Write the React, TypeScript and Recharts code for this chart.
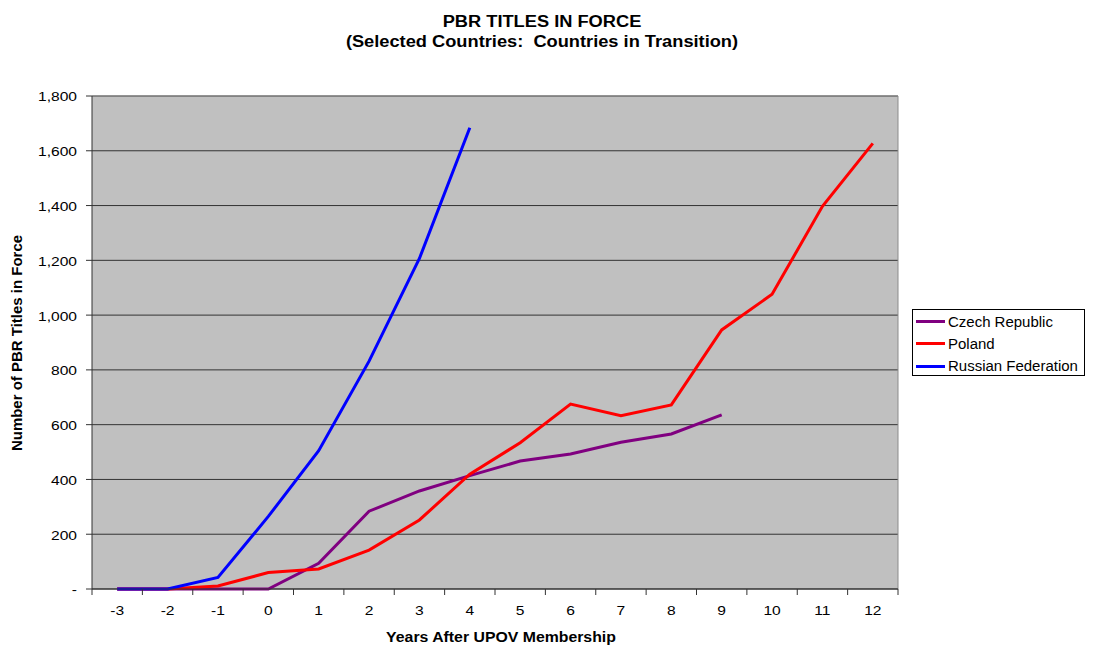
import React from "react";
import { LineChart, Line, XAxis, YAxis, CartesianGrid, ReferenceLine } from "recharts";

// years relative to UPOV membership
const years = [-3, -2, -1, 0, 1, 2, 3, 4, 5, 6, 7, 8, 9, 10, 11, 12];

const czech = [0, 0, 0, 0, 94, 284, 358, 414, 467, 493, 536, 566, 636, null, null, null];
const poland = [0, 0, 11, 60, 73, 142, 252, 419, 534, 675, 633, 672, 946, 1076, 1397, 1627];
const russia = [0, 0, 42, 265, 505, 832, 1207, 1684, null, null, null, null, null, null, null, null];

const yTicks = [0, 200, 400, 600, 800, 1000, 1200, 1400, 1600, 1800];

const series = [
  { key: "czech", name: "Czech Republic", color: "#800080" },
  { key: "poland", name: "Poland", color: "#FF0000" },
  { key: "russia", name: "Russian Federation", color: "#0000FF" },
];

const data = years.map((year, i) => ({
  year,
  czech: czech[i],
  poland: poland[i],
  russia: russia[i],
}));

const W = 1087;
const H = 639;
const PLOT_LEFT = 84;
const PLOT_RIGHT = 890;
const PLOT_TOP = 88;
const PLOT_BOTTOM = 581;
const BAND = (PLOT_RIGHT - PLOT_LEFT) / years.length;
const FONT = "'Liberation Sans', Arial, sans-serif";
const AXIS_COLOR = "#333";

const fmt = (v: number) => (v === 0 ? "-" : v.toLocaleString("en-US"));

const XTick = (props: any) => {
  const { x, payload } = props;
  const half = BAND / 2;
  const last = payload.value === years[years.length - 1];
  return (
    <g>
      <line x1={x - half} y1={PLOT_BOTTOM} x2={x - half} y2={PLOT_BOTTOM + 6} stroke={AXIS_COLOR} />
      {last && <line x1={x + half} y1={PLOT_BOTTOM} x2={x + half} y2={PLOT_BOTTOM + 6} stroke={AXIS_COLOR} />}
      <text
        transform={`translate(${x},${PLOT_BOTTOM + 22}) scale(1.3,1)`}
        textAnchor="middle"
        dy="0.35em"
        fontSize={12}
        fontFamily={FONT}
        fill="#000"
      >
        {payload.value}
      </text>
    </g>
  );
};

const YTick = (props: any) => {
  const { x, y, payload } = props;
  return (
    <text
      transform={`translate(${x},${y}) scale(1.3,1)`}
      textAnchor="end"
      dy="0.45em"
      fontSize={12}
      fontFamily={FONT}
      fill="#000"
    >
      {fmt(payload.value)}
    </text>
  );
};

export default function App() {
  return (
    <div style={{ position: "relative", width: W, height: H, fontFamily: FONT, background: "#fff" }}>
      <div
        style={{
          position: "absolute",
          left: 0,
          top: 4,
          width: 1068,
          textAlign: "center",
          fontWeight: "bold",
          fontSize: 16,
          lineHeight: "19.5px",
        }}
      >
        <div style={{ transform: "scaleX(1.14)" }}>PBR TITLES IN FORCE</div>
        <div style={{ transform: "scaleX(1.14)", whiteSpace: "pre" }}>
          (Selected Countries:  Countries in Transition)
        </div>
      </div>

      <LineChart
        width={W}
        height={H}
        data={data}
        margin={{ top: PLOT_TOP, right: W - PLOT_RIGHT, bottom: 28, left: 0 }}
      >
        <CartesianGrid fill="#C0C0C0" stroke={AXIS_COLOR} vertical={false} />
        <XAxis
          dataKey="year"
          type="number"
          domain={[-3.5, 12.5]}
          ticks={years}
          interval={0}
          height={30}
          tick={<XTick />}
          tickLine={false}
          tickSize={6}
          tickMargin={2}
          axisLine={{ stroke: AXIS_COLOR }}
        />
        <YAxis
          type="number"
          domain={[0, 1800]}
          ticks={yTicks}
          interval={0}
          width={PLOT_LEFT}
          tick={<YTick />}
          tickSize={6}
          tickMargin={9}
          tickLine={{ stroke: AXIS_COLOR }}
          axisLine={{ stroke: AXIS_COLOR }}
        />
        <ReferenceLine y={1800} stroke="#8c8c8c" />
        <ReferenceLine x={12.5} stroke="#8c8c8c" />
        {series.map((s) => (
          <Line
            key={s.key}
            dataKey={s.key}
            name={s.name}
            type="linear"
            stroke={s.color}
            strokeWidth={3}
            dot={false}
            activeDot={false}
            isAnimationActive={false}
          />
        ))}
      </LineChart>

      <div
        style={{
          position: "absolute",
          left: 9,
          top: 335,
          transform: "translate(-50%, -50%) rotate(-90deg) scaleX(1.07)",
          whiteSpace: "nowrap",
          fontWeight: "bold",
          fontSize: 14,
        }}
      >
        Number of PBR Titles in Force
      </div>

      <div
        style={{
          position: "absolute",
          left: 493,
          top: 629,
          transform: "translate(-50%, -50%) scaleX(1.13)",
          whiteSpace: "nowrap",
          fontWeight: "bold",
          fontSize: 14,
        }}
      >
        Years After UPOV Membership
      </div>

      <div
        style={{
          position: "absolute",
          left: 904,
          top: 301,
          width: 171,
          height: 65,
          border: "1px solid #000",
          background: "#fff",
        }}
      >
        {series.map((s, i) => (
          <div
            key={s.key}
            style={{ position: "absolute", left: 3, top: 11.7 + i * 22.2 - 9, height: 18, display: "flex", alignItems: "center" }}
          >
            <div style={{ width: 29, height: 3, background: s.color }} />
            <div
              style={{
                marginLeft: 3,
                fontSize: 14,
                whiteSpace: "nowrap",
                transform: "scaleX(1.07)",
                transformOrigin: "left center",
              }}
            >
              {s.name}
            </div>
          </div>
        ))}
      </div>
    </div>
  );
}
